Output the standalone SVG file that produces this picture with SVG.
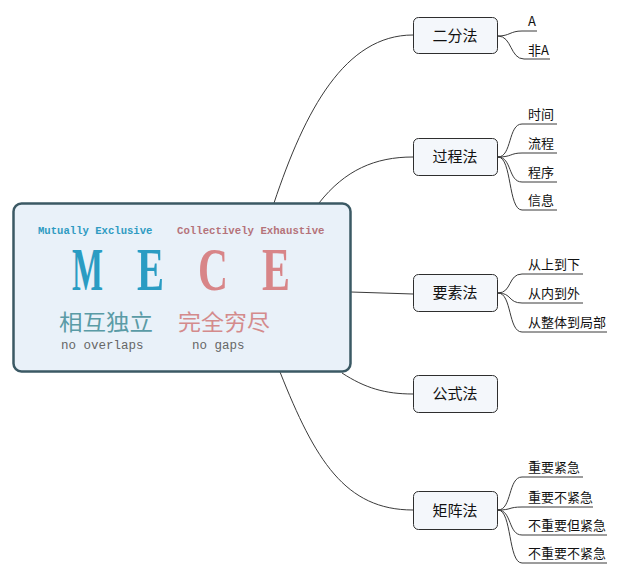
<svg xmlns="http://www.w3.org/2000/svg" width="619" height="575" viewBox="0 0 619 575">
<style>
.node rect{fill:#f4f7fb;stroke:#2e2e2e;stroke-width:1}
.nt{font-family:"Noto Sans CJK SC","Noto Sans",sans-serif;font-size:15px;fill:#111;text-anchor:middle}
.lt{font-family:"Noto Sans CJK SC","Noto Sans",sans-serif;font-size:13px;fill:#111}
.conn path{fill:none;stroke:#3a3a3a;stroke-width:1}
.mono{font-family:"Liberation Mono","DejaVu Sans Mono",monospace}
.big{font-family:"Liberation Serif",serif;font-size:62px;font-weight:bold}
</style>
<rect width="619" height="575" fill="#ffffff"/>
<g class="conn" id="connectors">
<path d="M274,203 C305,110 345,35 413,35"/>
<path d="M319,203 C345,170 375,157 413,157"/>
<path d="M351,292 L413,294"/>
<path d="M342,373 C365,388 385,394 413,394"/>
<path d="M280,372 C315,460 345,510 413,510"/>
<path d="M498,36 C510,36 510,31 522,31 H537"/>
<path d="M498,36 C512,36 510,59 524,59 H550"/>
<path d="M498,157 C512,157 508,124 522,124 H557"/>
<path d="M498,157 C512,157 510,153 522,153 H557"/>
<path d="M498,157 C512,157 508,182 522,182 H557"/>
<path d="M498,157 C512,157 508,210 522,210 H557"/>
<path d="M498,293 C512,293 508,274 522,274 H583"/>
<path d="M498,293 C512,293 508,303 522,303 H583"/>
<path d="M498,293 C512,293 508,332 522,332 H607"/>
<path d="M498,510 C512,510 508,477 522,477 H583"/>
<path d="M498,510 C512,510 508,507 522,507 H593"/>
<path d="M498,510 C512,510 508,535 522,535 H607"/>
<path d="M498,510 C512,510 508,563 522,563 H607"/>
</g>
<g id="mece">
<rect x="13.5" y="203.5" width="337" height="168" rx="8" fill="#e9f1f9" stroke="#3b5964" stroke-width="2.5"/>
<text class="mono" x="38" y="234" font-size="10.6" font-weight="bold" fill="#2f9bc2">Mutually Exclusive</text>
<text class="mono" x="177" y="234" font-size="10.7" font-weight="bold" fill="#b5737a">Collectively Exhaustive</text>
<text class="big" x="72" y="290" textLength="31" lengthAdjust="spacingAndGlyphs" fill="#2a9cc3">M</text>
<text class="big" x="137" y="290" textLength="27" lengthAdjust="spacingAndGlyphs" fill="#2a9cc3">E</text>
<text class="big" x="198" y="290" textLength="30" lengthAdjust="spacingAndGlyphs" fill="#d88588">C</text>
<text class="big" x="262" y="290" textLength="28" lengthAdjust="spacingAndGlyphs" fill="#d88588">E</text>
<text x="59" y="330" font-family="'Noto Sans CJK SC',sans-serif" font-size="22" fill="#5a9ba6" textLength="94" lengthAdjust="spacingAndGlyphs">相互独立</text>
<text x="178" y="330" font-family="'Noto Sans CJK SC',sans-serif" font-size="22" fill="#d48b8c" textLength="92" lengthAdjust="spacingAndGlyphs">完全穷尽</text>
<text class="mono" x="61" y="349" font-size="12.5" fill="#666">no overlaps</text>
<text class="mono" x="192" y="349" font-size="12.5" fill="#666">no gaps</text>
</g>
<g class="node" id="n-erfen"><rect x="413.5" y="17.5" width="84" height="36" rx="5"/><text class="nt" x="455" y="41">二分法</text></g>
<g class="node" id="n-guocheng"><rect x="413.5" y="138.5" width="84" height="37" rx="5"/><text class="nt" x="455" y="162">过程法</text></g>
<g class="node" id="n-yaosu"><rect x="413.5" y="274.5" width="84" height="37" rx="5"/><text class="nt" x="455" y="298">要素法</text></g>
<g class="node" id="n-gongshi"><rect x="413.5" y="375.5" width="84" height="37" rx="5"/><text class="nt" x="455" y="399">公式法</text></g>
<g class="node" id="n-juzhen"><rect x="413.5" y="491.5" width="84" height="38" rx="5"/><text class="nt" x="455" y="516">矩阵法</text></g>
<g id="leaves">
<text class="lt" x="528" y="26">A</text>
<text class="lt" x="528" y="55">非A</text>
<text class="lt" x="528" y="119">时间</text>
<text class="lt" x="528" y="148">流程</text>
<text class="lt" x="528" y="177">程序</text>
<text class="lt" x="528" y="205">信息</text>
<text class="lt" x="528" y="269">从上到下</text>
<text class="lt" x="528" y="298">从内到外</text>
<text class="lt" x="528" y="327">从整体到局部</text>
<text class="lt" x="528" y="472">重要紧急</text>
<text class="lt" x="528" y="502">重要不紧急</text>
<text class="lt" x="528" y="530">不重要但紧急</text>
<text class="lt" x="528" y="558">不重要不紧急</text>
</g>
</svg>
